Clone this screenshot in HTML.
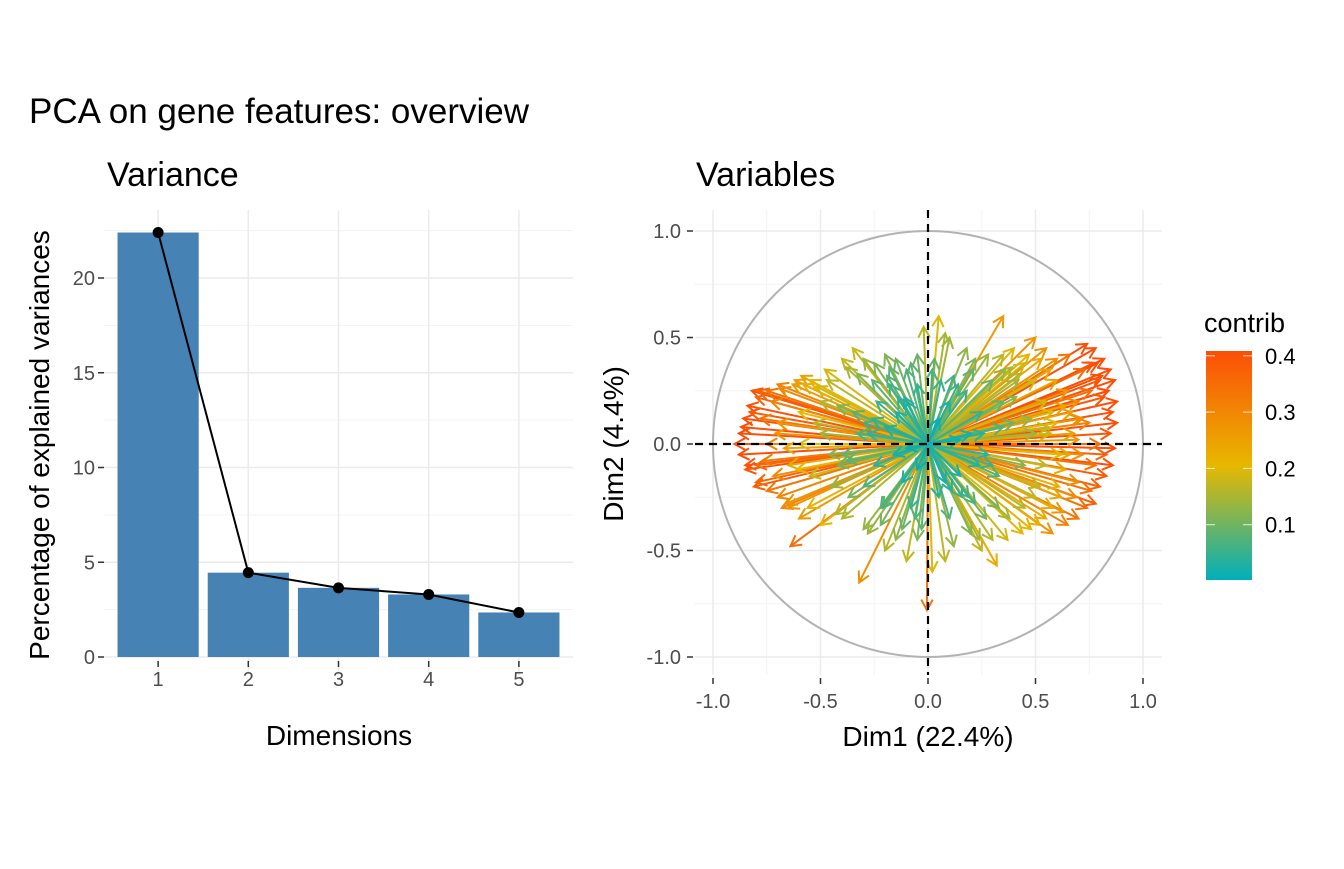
<!DOCTYPE html>
<html><head><meta charset="utf-8"><style>
body{margin:0;background:#fff;font-family:"Liberation Sans",sans-serif}
svg text{font-family:"Liberation Sans",sans-serif}
</style></head><body>
<svg id="s" width="1344" height="864" xmlns="http://www.w3.org/2000/svg">
<text x="29" y="123" font-size="35" fill="#000">PCA on gene features: overview</text>
<text x="107" y="186" font-size="34" fill="#000">Variance</text>
<text x="696" y="186" font-size="34" fill="#000">Variables</text>
<g id="left"></g>
<g id="right"></g>
<text x="339" y="745" font-size="28" text-anchor="middle">Dimensions</text>
<text transform="translate(49,445) rotate(-90)" font-size="28" text-anchor="middle">Percentage of explained variances</text>
<text x="928" y="746" font-size="28" text-anchor="middle">Dim1 (22.4%)</text>
<text transform="translate(623,444) rotate(-90)" font-size="28" text-anchor="middle">Dim2 (4.4%)</text>
<g id="legend"></g>
</svg>
<script>
const dims=[1,2,3,4,5];
const variances=[22.4,4.45,3.65,3.3,2.35];
const yTicks=[0,5,10,15,20];
const pTicks=[-1,-0.5,0,0.5,1];
const pTickLabels=["-1.0","-0.5","0.0","0.5","1.0"];
const legendTicks=[0.1,0.2,0.3,0.4];
const arrowsX=[0.85,0.82,0.78,0.74,0.87,0.88,0.86,0.88,0.85,0.87,0.86,0.83,0.8,0.78,0.7,0.74,0.65,0.58,0.55,0.6,0.66,0.55,0.5,0.8,0.76,0.7,0.82,0.75,0.8,0.72,0.68,0.78,0.7,0.62,0.6,0.65,0.55,0.5,0.45,0.4,0.35,0.42,0.38,0.45,0.5,0.48,0.55,0.6,0.5,0.45,0.35,0.3,0.28,0.22,0.18,0.1,0.05,0.35,0.08,-0.02,0.3,0.32,0.25,0.2,0.12,0.08,0.02,-0.005,-0.05,-0.1,-0.15,-0.2,-0.32,-0.3,-0.4,-0.5,-0.64,-0.6,-0.65,-0.7,-0.75,-0.8,-0.85,-0.88,-0.9,-0.88,-0.86,-0.84,-0.8,-0.75,-0.7,-0.62,-0.55,-0.48,-0.4,-0.35,-0.3,-0.25,-0.2,-0.15,-0.1,-0.05,-0.7,-0.65,-0.6,-0.55,-0.5,-0.45,-0.75,-0.8,-0.78,-0.72,-0.6,-0.5,-0.4,-0.35,-0.3,-0.82,-0.68,-0.58,0.72,0.64,0.58,0.52,0.66,0.84,0.77,0.57,0.1,-0.1,0.15,-0.12,0.2,-0.2,0.05,-0.05,0.25,-0.25,0.18,-0.18,0.08,-0.08,0.3,-0.3,0.12,-0.15,0.05,-0.05,0.22,-0.22,0.02,0.1,0.28,-0.28,0.15,-0.1,0.4,-0.42,0.35,-0.38,
0.84,0.81,0.79,0.83,0.76,0.73,0.69,0.63,0.71,0.67,0.61,0.57,0.53,0.47,0.43,0.39,0.62,0.58,0.52,0.44,0.37,0.33,0.27,0.24,0.7,0.64,0.56,0.48,0.41,0.36,
-0.87,-0.85,-0.83,-0.81,-0.79,-0.77,-0.73,-0.69,-0.66,-0.63,-0.59,-0.56,-0.52,-0.47,-0.43,-0.38,-0.33,-0.28,-0.71,-0.67,-0.61,-0.53,-0.46,-0.42,-0.37,-0.26,-0.22,-0.18,-0.12,-0.08,
0.14,-0.14,0.19,-0.19,0.24,-0.24,0.06,-0.06,0.16,-0.16,0.26,-0.26,0.11,-0.11,0.03,-0.03,0.33,-0.33,0.21,-0.21];
const arrowsY=[0.35,0.4,0.45,0.47,0.3,0.2,0.15,0.1,0.05,-0.02,-0.1,-0.15,-0.2,-0.28,-0.35,-0.3,-0.38,-0.42,-0.35,0.4,0.42,0.45,0.5,0.3,0.25,0.2,0.22,0.1,0.0,-0.05,0.05,-0.1,-0.18,-0.25,0.3,0.25,0.2,0.3,0.38,0.45,0.42,0.3,-0.35,-0.3,-0.25,-0.4,-0.1,0.1,0.05,-0.1,0.2,0.3,0.42,0.4,0.45,0.5,0.6,0.6,0.52,0.55,-0.45,-0.57,-0.5,-0.42,-0.48,-0.55,-0.6,-0.78,-0.45,-0.55,-0.45,-0.5,-0.65,-0.4,-0.35,-0.38,-0.48,-0.35,-0.3,-0.25,-0.22,-0.18,-0.1,-0.05,0.0,0.05,0.12,0.18,0.22,0.25,0.28,0.3,0.3,0.35,0.4,0.45,0.4,0.38,0.42,0.4,0.35,0.42,0.1,-0.1,0.15,-0.15,0.2,-0.2,0.0,-0.1,0.12,-0.15,0.0,0.05,-0.05,0.15,-0.2,0.25,-0.3,0.28,0.12,-0.12,0.15,-0.2,-0.05,0.25,0.38,0.05,0.2,0.2,-0.15,-0.18,0.05,0.08,-0.25,0.28,0.15,-0.1,0.25,0.28,-0.18,-0.3,-0.1,0.1,0.32,0.15,0.12,-0.12,-0.28,-0.3,0.35,-0.35,-0.05,0.05,0.02,-0.02,0.1,-0.1,0.08,-0.08,
0.25,0.32,0.38,-0.05,-0.22,0.35,-0.25,-0.32,0.12,0.15,-0.2,0.35,0.4,0.42,0.33,0.36,-0.05,-0.3,-0.38,-0.42,-0.45,-0.3,-0.35,-0.45,0.02,0.18,0.08,0.12,0.22,0.35,
0.08,-0.12,0.15,-0.2,0.25,-0.08,0.2,0.26,-0.28,0.28,0.32,-0.3,0.27,0.3,-0.33,0.36,0.33,-0.42,0.05,-0.02,-0.12,0.1,-0.05,0.18,-0.25,0.3,-0.38,0.36,-0.4,0.38,
0.28,0.22,-0.25,0.32,-0.1,0.2,0.3,-0.35,-0.25,-0.05,0.05,0.12,-0.22,0.22,0.4,-0.4,-0.15,0.05,0.35,-0.3];

const NS="http://www.w3.org/2000/svg";
function mk(p,t,a){const e=document.createElementNS(NS,t);for(const k in a)e.setAttribute(k,a[k]);p.appendChild(e);return e;}

const L=document.getElementById('left');
const lx=v=>104+(v-0.4)/(5.2)*469;
const ly=v=>657-v*18.95;
for(let v=2.5;v<=22.5;v+=5){const g=mk(L,'line',{x1:104,x2:573,y1:ly(v),y2:ly(v),stroke:'#f3f3f3','stroke-width':1});}
yTicks.forEach(v=>{const g=mk(L,'line',{x1:104,x2:573,y1:ly(v),y2:ly(v),stroke:'#ebebeb','stroke-width':1.5});
 const t=mk(L,'text',{x:95,y:ly(v)+7,'font-size':20,'text-anchor':'end',fill:'#4d4d4d'});t.textContent=v;
 const k=mk(L,'line',{x1:98,x2:104,y1:ly(v),y2:ly(v),stroke:'#333','stroke-width':1.5});});
dims.forEach(d=>{const g=mk(L,'line',{x1:lx(d),x2:lx(d),y1:210,y2:675,stroke:'#ebebeb','stroke-width':1.5});});
dims.forEach((d,i)=>{const b=mk(L,'rect',{x:lx(d-0.45),y:ly(variances[i]),width:lx(d+0.45)-lx(d-0.45),height:ly(0)-ly(variances[i]),fill:'#4682b4'});
 const t=mk(L,'text',{x:lx(d),y:686,'font-size':20,'text-anchor':'middle',fill:'#4d4d4d'});t.textContent=d;
 const k=mk(L,'line',{x1:lx(d),x2:lx(d),y1:661,y2:667,stroke:'#333','stroke-width':1.5});});
const pl=mk(L,'polyline',{points:dims.map((d,i)=>lx(d)+','+ly(variances[i])).join(' '),fill:'none',stroke:'#000','stroke-width':2});

dims.forEach((d,i)=>{const c=mk(L,'circle',{cx:lx(d),cy:ly(variances[i]),r:5.5,fill:'#000'});});

const R=document.getElementById('right');
const px=v=>928+v*215, py=v=>444-v*213;
[-0.75,-0.25,0.25,0.75].forEach(v=>{
 const a=mk(R,'line',{x1:695,x2:1162,y1:py(v),y2:py(v),stroke:'#f3f3f3','stroke-width':1});
 const b=mk(R,'line',{x1:px(v),x2:px(v),y1:210,y2:675,stroke:'#f3f3f3','stroke-width':1});});
pTicks.forEach((v,i)=>{
 const a=mk(R,'line',{x1:695,x2:1162,y1:py(v),y2:py(v),stroke:'#ebebeb','stroke-width':1.5});
 const b=mk(R,'line',{x1:px(v),x2:px(v),y1:210,y2:675,stroke:'#ebebeb','stroke-width':1.5});
 const t=mk(R,'text',{x:681,y:py(v)+7,'font-size':20,'text-anchor':'end',fill:'#4d4d4d'});t.textContent=pTickLabels[i];
 const k=mk(R,'line',{x1:687,x2:693,y1:py(v),y2:py(v),stroke:'#333','stroke-width':1.5});
 const t2=mk(R,'text',{x:px(v),y:708,'font-size':20,'text-anchor':'middle',fill:'#4d4d4d'});t2.textContent=pTickLabels[i];
 const k2=mk(R,'line',{x1:px(v),x2:px(v),y1:678,y2:684,stroke:'#333','stroke-width':1.5});});
const circ=mk(R,'ellipse',{cx:px(0),cy:py(0),rx:215,ry:213,fill:'none',stroke:'#b3b3b3','stroke-width':2});

function lerp(a,b,t){return a.map((v,i)=>Math.round(v+(b[i]-v)*t));}
function col(c){const A=[0,175,187],B=[231,184,0],C=[252,78,7];let t=Math.max(0,Math.min(1,c/0.4));const rgb=t<0.5?lerp(A,B,t/0.5):lerp(B,C,(t-0.5)/0.5);return 'rgb('+rgb.join(',')+')';}
const idx=arrowsX.map((_,i)=>i).sort((a,b)=>(arrowsX[b]**2+arrowsY[b]**2)-(arrowsX[a]**2+arrowsY[a]**2));
idx.forEach(i=>{const x=arrowsX[i],y=arrowsY[i];const c=col(0.53*(x*x+y*y));
 const x2=px(x),y2=py(y),x1=px(0),y1=py(0);const ang=Math.atan2(y2-y1,x2-x1);const h=12;
 const g=mk(R,'g',{stroke:c,'stroke-width':2,fill:'none'});
 
 
 mk(g,'line',{x1:x1,y1:y1,x2:x2,y2:y2});
 mk(g,'polyline',{points:(x2-h*Math.cos(ang-0.5))+','+(y2-h*Math.sin(ang-0.5))+' '+x2+','+y2+' '+(x2-h*Math.cos(ang+0.5))+','+(y2-h*Math.sin(ang+0.5))});});
const h0=mk(R,'line',{x1:695,x2:1162,y1:py(0),y2:py(0),stroke:'#000','stroke-width':2.2,'stroke-dasharray':'8,6'});
const v0=mk(R,'line',{x1:px(0),x2:px(0),y1:210,y2:675,stroke:'#000','stroke-width':2.2,'stroke-dasharray':'8,6'});

const G=document.getElementById('legend');
const defs=mk(G,'defs',{});const lg=mk(defs,'linearGradient',{id:'cg',x1:0,y1:1,x2:0,y2:0});
[0,0.25,0.5,0.75,1].forEach(t=>mk(lg,'stop',{offset:t,'stop-color':col(t*0.4)}));
const lt=mk(G,'text',{x:1204,y:332,'font-size':27});lt.textContent='contrib';
const lb=mk(G,'rect',{x:1206,y:351,width:46,height:229,fill:'url(#cg)'});
const ly2=v=>581-v*563;
legendTicks.forEach(v=>{mk(G,'line',{x1:1206,x2:1215,y1:ly2(v),y2:ly2(v),stroke:'#fff','stroke-width':1,opacity:0.8});mk(G,'line',{x1:1243,x2:1252,y1:ly2(v),y2:ly2(v),stroke:'#fff','stroke-width':1,opacity:0.8});
 const t=mk(G,'text',{x:1265,y:ly2(v)+8,'font-size':22,fill:'#000'});t.textContent=v.toFixed(1);});
</script>
</body></html>
